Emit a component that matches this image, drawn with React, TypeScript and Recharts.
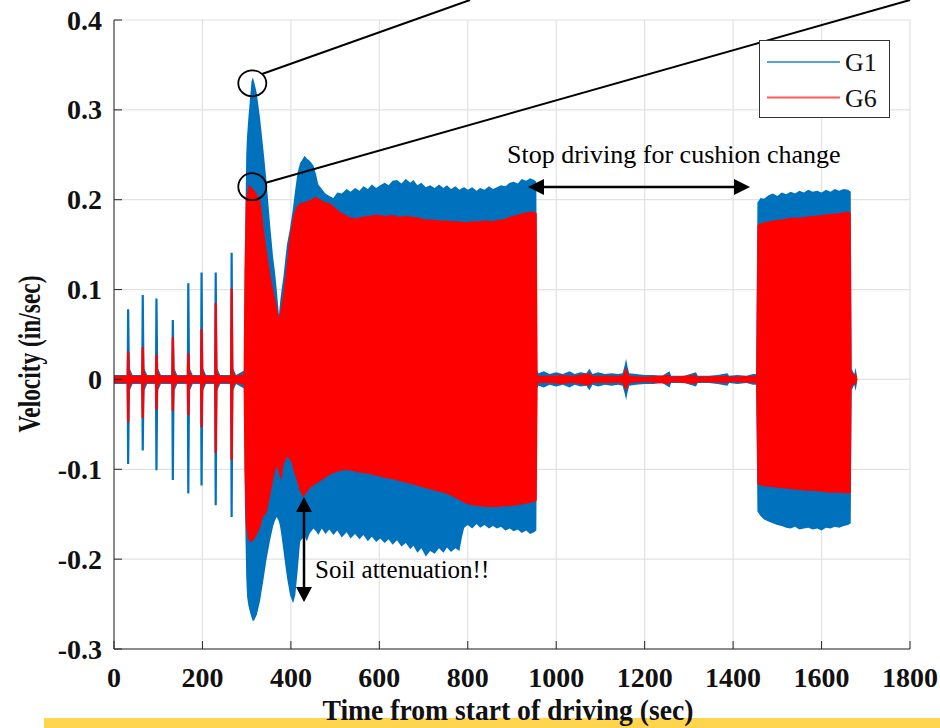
import React from 'react';
import { ComposedChart, Area, XAxis, YAxis, CartesianGrid } from 'recharts';

const X_TICKS = [0, 200, 400, 600, 800, 1000, 1200, 1400, 1600, 1800];
const Y_TICKS = [-0.3, -0.2, -0.1, 0, 0.1, 0.2, 0.3, 0.4];
const SERIES = ['G1', 'G6'];
const BLUE = '#0072BD';
const RED = '#FF0000';
const SERIF = '"Liberation Serif", "Times New Roman", serif';

// hammer blows before continuous driving: [time, min, max]
const G1_BLOWS = [
  [32, -0.094, 0.078], [65, -0.079, 0.094], [96, -0.101, 0.09], [133, -0.112, 0.066],
  [168, -0.127, 0.107], [198, -0.118, 0.119], [230, -0.14, 0.119], [266, -0.153, 0.141],
];
const G6_BLOWS = [
  [32, -0.048, 0.031], [65, -0.043, 0.036], [96, -0.034, 0.028], [133, -0.035, 0.047],
  [168, -0.04, 0.029], [198, -0.053, 0.056], [230, -0.082, 0.085], [266, -0.09, 0.101],
];
// resting noise level between blows
const G1_REST = 0.005;
const G6_REST = 0.004;
const G1_RING = 0.012;
const G6_RING = 0.007;

// first driving phase envelope: [time, min, max]
const G1_DRIVE1 = [
  [294, -0.01, 0.01], [296, -0.14, 0.14], [299, -0.22, 0.25], [301, -0.242, 0.272],
  [304, -0.252, 0.292], [308, -0.26, 0.315], [311, -0.265, 0.332], [314, -0.269, 0.336],
  [317, -0.268, 0.331], [320, -0.265, 0.325], [323, -0.262, 0.318], [330, -0.247, 0.292],
  [338, -0.223, 0.255], [345, -0.2, 0.22], [353, -0.179, 0.172], [360, -0.163, 0.135],
  [364, -0.157, 0.12], [368, -0.153, 0.1], [373, -0.158, 0.072], [376, -0.165, 0.088],
  [379, -0.175, 0.1], [383, -0.19, 0.114], [391, -0.22, 0.15], [398, -0.24, 0.168],
  [405, -0.249, 0.192], [410, -0.24, 0.212], [415, -0.215, 0.23], [421, -0.18, 0.241],
  [425, -0.178, 0.244], [431, -0.174, 0.249], [436, -0.18, 0.246], [443, -0.171, 0.243],
  [451, -0.166, 0.238], [457, -0.169, 0.228], [462, -0.173, 0.217], [470, -0.166, 0.212],
  [478, -0.172, 0.207], [487, -0.167, 0.204], [496, -0.173, 0.202], [505, -0.168, 0.208],
  [515, -0.176, 0.207], [526, -0.17, 0.212], [535, -0.177, 0.209], [545, -0.172, 0.213],
  [555, -0.178, 0.21], [564, -0.173, 0.215], [574, -0.18, 0.212], [583, -0.175, 0.217],
  [593, -0.181, 0.213], [602, -0.177, 0.216], [612, -0.182, 0.219], [621, -0.178, 0.216],
  [630, -0.184, 0.221], [640, -0.179, 0.222], [650, -0.186, 0.218], [660, -0.182, 0.223],
  [670, -0.189, 0.219], [677, -0.185, 0.222], [686, -0.193, 0.216], [695, -0.188, 0.219],
  [705, -0.197, 0.214], [715, -0.191, 0.216], [725, -0.194, 0.213], [735, -0.188, 0.217],
  [745, -0.193, 0.213], [753, -0.187, 0.216], [762, -0.192, 0.212], [772, -0.188, 0.215],
  [781, -0.191, 0.211], [787, -0.175, 0.213], [792, -0.165, 0.214], [800, -0.162, 0.211],
  [810, -0.166, 0.214], [820, -0.161, 0.21], [828, -0.165, 0.213], [838, -0.162, 0.211],
  [848, -0.166, 0.215], [857, -0.163, 0.212], [866, -0.166, 0.214], [875, -0.164, 0.216],
  [885, -0.168, 0.215], [895, -0.166, 0.219], [904, -0.169, 0.22], [913, -0.167, 0.218],
  [922, -0.171, 0.223], [932, -0.168, 0.221], [941, -0.172, 0.224], [950, -0.17, 0.222],
  [955, -0.168, 0.22], [957, -0.01, 0.01],
];
const G6_DRIVE1 = [
  [293, -0.006, 0.006], [295, -0.1, 0.12], [298, -0.16, 0.2], [302, -0.175, 0.21],
  [305, -0.179, 0.217], [309, -0.181, 0.215], [312, -0.181, 0.213], [318, -0.177, 0.21],
  [324, -0.172, 0.205], [330, -0.166, 0.2], [334, -0.158, 0.188], [338, -0.152, 0.17],
  [345, -0.149, 0.145], [353, -0.13, 0.118], [360, -0.112, 0.1], [365, -0.101, 0.088],
  [369, -0.097, 0.078], [373, -0.104, 0.068], [376, -0.11, 0.076], [379, -0.112, 0.084],
  [383, -0.096, 0.096], [391, -0.086, 0.13], [396, -0.088, 0.155], [402, -0.093, 0.172],
  [407, -0.103, 0.185], [413, -0.112, 0.192], [420, -0.124, 0.196], [428, -0.131, 0.197],
  [435, -0.126, 0.198], [445, -0.12, 0.2], [455, -0.117, 0.203], [461, -0.115, 0.202],
  [470, -0.112, 0.199], [480, -0.109, 0.197], [488, -0.106, 0.196], [498, -0.104, 0.192],
  [510, -0.102, 0.187], [520, -0.101, 0.184], [530, -0.101, 0.181], [540, -0.102, 0.18],
  [548, -0.103, 0.179], [560, -0.104, 0.181], [575, -0.105, 0.182], [590, -0.107, 0.183],
  [601, -0.108, 0.183], [615, -0.11, 0.182], [630, -0.111, 0.183], [645, -0.113, 0.181],
  [660, -0.115, 0.182], [676, -0.117, 0.181], [690, -0.119, 0.18], [705, -0.121, 0.178],
  [720, -0.123, 0.178], [735, -0.125, 0.177], [751, -0.127, 0.177], [765, -0.13, 0.176],
  [780, -0.134, 0.176], [795, -0.138, 0.175], [810, -0.14, 0.176], [827, -0.141, 0.176],
  [842, -0.142, 0.177], [858, -0.142, 0.176], [870, -0.142, 0.178], [880, -0.141, 0.178],
  [895, -0.141, 0.181], [910, -0.14, 0.183], [924, -0.139, 0.185], [935, -0.138, 0.186],
  [945, -0.137, 0.187], [951, -0.136, 0.186], [956, -0.135, 0.185], [958, -0.004, 0.004],
];

// cushion change pause: [time, amplitude]
const G1_PAUSE = [
  [960, 0.007], [972, 0.009], [985, 0.006], [1000, 0.008], [1015, 0.006], [1030, 0.009],
  [1042, 0.006], [1055, 0.008], [1068, 0.007], [1075, 0.012], [1082, 0.006], [1095, 0.008],
  [1110, 0.006], [1125, 0.007], [1140, 0.006], [1150, 0.007], [1155, 0.016], [1158, 0.023],
  [1161, 0.015], [1165, 0.007], [1180, 0.006], [1200, 0.005], [1220, 0.005], [1240, 0.004],
  [1256, 0.009], [1260, 0.004], [1290, 0.004], [1316, 0.008], [1320, 0.004], [1345, 0.004],
  [1365, 0.005], [1387, 0.007], [1391, 0.004], [1410, 0.005], [1430, 0.004], [1445, 0.006],
  [1452, 0.006],
];
const G6_PAUSE = [
  [960, 0.004], [985, 0.004], [1010, 0.005], [1040, 0.004], [1075, 0.007], [1082, 0.004],
  [1120, 0.004], [1150, 0.004], [1155, 0.01], [1158, 0.013], [1161, 0.009], [1165, 0.004],
  [1200, 0.003], [1256, 0.005], [1260, 0.003], [1316, 0.005], [1320, 0.003], [1387, 0.004],
  [1391, 0.003], [1452, 0.004],
];

// second driving phase envelope: [time, min, max]
const G1_DRIVE2 = [
  [1455, -0.147, 0.197], [1462, -0.152, 0.202], [1470, -0.156, 0.201], [1480, -0.158, 0.205],
  [1490, -0.16, 0.207], [1500, -0.162, 0.204], [1510, -0.163, 0.208], [1520, -0.165, 0.206],
  [1530, -0.166, 0.209], [1540, -0.164, 0.207], [1550, -0.167, 0.21], [1560, -0.166, 0.208],
  [1570, -0.165, 0.211], [1580, -0.167, 0.209], [1590, -0.166, 0.21], [1600, -0.168, 0.208],
  [1610, -0.165, 0.211], [1620, -0.166, 0.209], [1630, -0.164, 0.212], [1640, -0.165, 0.21],
  [1650, -0.163, 0.212], [1660, -0.162, 0.211], [1666, -0.16, 0.209], [1668, -0.012, 0.012],
  [1674, -0.006, 0.006], [1677, -0.013, 0.013], [1680, -0.004, 0.004], [1681, 0, 0],
];
const G6_DRIVE2 = [
  [1455, -0.117, 0.172], [1470, -0.119, 0.175], [1490, -0.12, 0.177], [1510, -0.121, 0.178],
  [1530, -0.122, 0.18], [1550, -0.123, 0.18], [1564, -0.124, 0.181], [1580, -0.124, 0.182],
  [1600, -0.125, 0.183], [1620, -0.126, 0.184], [1640, -0.126, 0.185], [1661, -0.127, 0.187],
  [1666, -0.126, 0.185], [1668, -0.009, 0.009], [1674, -0.004, 0.004], [1677, -0.008, 0.008],
  [1680, -0.002, 0.002], [1681, 0, 0],
];

function buildSeries(blows: number[][], rest: number, ring: number, drive1: number[][],
  pause: number[][], drive2: number[][]) {
  const rows: { t: number; v: [number, number] }[] = [{ t: 0, v: [-rest, rest] }];
  blows.forEach(([t, lo, hi]) => {
    rows.push({ t: t - 3.5, v: [-rest, rest] });
    rows.push({ t: t - 2.5, v: [lo, hi] });
    rows.push({ t: t + 2.5, v: [lo, hi] });
    rows.push({ t: t + 4, v: [-ring, ring] });
    rows.push({ t: t + 10, v: [-rest, rest] });
  });
  drive1.forEach(([t, lo, hi]) => rows.push({ t, v: [lo, hi] }));
  pause.forEach(([t, a]) => rows.push({ t, v: [-a, a] }));
  drive2.forEach(([t, lo, hi]) => rows.push({ t, v: [lo, hi] }));
  return rows;
}

const g1Data = buildSeries(G1_BLOWS, G1_REST, G1_RING, G1_DRIVE1, G1_PAUSE, G1_DRIVE2);
const g6Data = buildSeries(G6_BLOWS, G6_REST, G6_RING, G6_DRIVE1, G6_PAUSE, G6_DRIVE2);

function XTick({ x, y, payload }: any) {
  return (
    <text x={x} y={y + 38} textAnchor="middle" fontFamily={SERIF} fontWeight="bold"
      fontSize={28} fill="#111">
      {payload.value}
    </text>
  );
}

function YTick({ x, y, payload }: any) {
  const v = payload.value;
  return (
    <text x={x} y={y + 9.5} textAnchor="end" fontFamily={SERIF} fontWeight="bold"
      fontSize={28} fill="#111">
      {v === 0 ? '0' : v.toFixed(1)}
    </text>
  );
}

function Overlay() {
  const head = (d: string) => <path d={d} fill="#000" />;
  return (
    <svg width={940} height={728} style={{ position: 'absolute', left: 0, top: 0, pointerEvents: 'none' }}>
      {/* peak markers */}
      <ellipse cx={252.3} cy={83.3} rx={14} ry={13} fill="none" stroke="#000" strokeWidth={1.8} />
      <ellipse cx={252.3} cy={186.7} rx={14} ry={13.5} fill="none" stroke="#000" strokeWidth={1.8} />
      <line x1={262} x2={470} y1={74} y2={0} stroke="#000" strokeWidth={2} />
      <line x1={265} x2={910} y1={183} y2={0} stroke="#000" strokeWidth={2} />

      {/* stop driving arrow */}
      <line x1={540} x2={738} y1={187} y2={187} stroke="#000" strokeWidth={2.5} />
      {head('M528,187 L544,179 L544,195 Z')}
      {head('M750,187 L734,179 L734,195 Z')}
      <text x={507} y={163} fontFamily={SERIF} fontSize={26} fill="#000">
        Stop driving for cushion change
      </text>

      {/* soil attenuation arrow */}
      <line x1={304} x2={304} y1={508} y2={590} stroke="#000" strokeWidth={2.5} />
      {head('M304,497 L296,512 L312,512 Z')}
      {head('M304,602 L296,587 L312,587 Z')}
      <text x={315} y={578} fontFamily={SERIF} fontSize={25} fill="#000">
        Soil attenuation!!
      </text>

      {/* legend */}
      <rect x={759.5} y={40.5} width={130} height={77} fill="#fff" stroke="#333" strokeWidth={1} />
      {SERIES.map((s, i) => (
        <g key={s}>
          <line x1={767} x2={840} y1={62 + i * 35.5} y2={62 + i * 35.5}
            stroke={i === 0 ? BLUE : RED} strokeWidth={2} strokeOpacity={0.65} />
          <text x={845} y={71 + i * 35.5} fontFamily={SERIF} fontSize={26} fill="#111">{s}</text>
        </g>
      ))}

      {/* axis titles */}
      <text transform="translate(40,354) rotate(-90)" textAnchor="middle" fontFamily={SERIF}
        fontWeight="bold" fontSize={32} fill="#111" textLength={157} lengthAdjust="spacingAndGlyphs">
        Velocity (in/sec)
      </text>
      <text x={508} y={720} textAnchor="middle" fontFamily={SERIF} fontWeight="bold" fontSize={30}
        fill="#111" textLength={371} lengthAdjust="spacingAndGlyphs">
        Time from start of driving (sec)
      </text>
    </svg>
  );
}

export default function App() {
  return (
    <div style={{ position: 'absolute', left: 0, top: 0, width: 940, height: 728, background: '#fff' }}>
      <div style={{ position: 'absolute', left: 44, top: 718, width: 896, height: 10, background: '#FFD44F' }} />
      <div style={{ position: 'absolute', left: 0, top: 0 }}>
        <ComposedChart width={940} height={728} margin={{ top: 20, right: 30, bottom: 0, left: 0 }}>
          <CartesianGrid stroke="#e2e2e2" strokeWidth={1.2} />
          <XAxis type="number" dataKey="t" domain={[0, 1800]} ticks={X_TICKS} allowDataOverflow
            height={79} tickSize={-8} tickMargin={8} tick={<XTick />}
            axisLine={{ stroke: '#262626' }} tickLine={{ stroke: '#262626' }} interval={0} />
          <XAxis xAxisId="top" orientation="top" type="number" domain={[0, 1800]} ticks={X_TICKS}
            allowDataOverflow height={0} tickSize={-8} tick={false}
            axisLine={{ stroke: '#262626' }} tickLine={{ stroke: '#262626' }} />
          <YAxis type="number" domain={[-0.3, 0.4]} ticks={Y_TICKS} allowDataOverflow width={114}
            tickSize={-8} tickMargin={20} tick={<YTick />} interval={0}
            axisLine={{ stroke: '#262626' }} tickLine={{ stroke: '#262626' }} />
          <YAxis yAxisId="right" orientation="right" type="number" domain={[-0.3, 0.4]} ticks={Y_TICKS}
            allowDataOverflow width={0} tickSize={-8} tick={false}
            axisLine={{ stroke: '#262626' }} tickLine={{ stroke: '#262626' }} />
          <Area data={g1Data} dataKey="v" name="G1" type="linear" stroke="none" fill={BLUE}
            fillOpacity={1} isAnimationActive={false} dot={false} activeDot={false} />
          <Area data={g6Data} dataKey="v" name="G6" type="linear" stroke="none" fill={RED}
            fillOpacity={1} isAnimationActive={false} dot={false} activeDot={false} />
        </ComposedChart>
      </div>
      <Overlay />
    </div>
  );
}
